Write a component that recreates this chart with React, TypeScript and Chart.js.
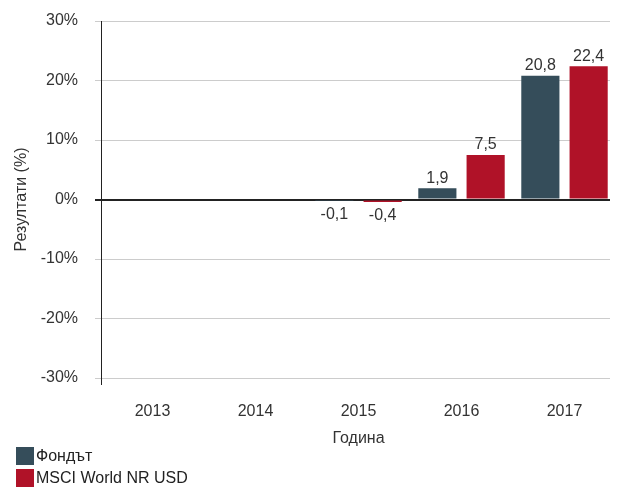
import React, { useEffect, useRef } from "react";
import { Chart, registerables } from "chart.js";
Chart.register(...registerables);

const years = ["2013", "2014", "2015", "2016", "2017"];
const fundValues: (number | null)[] = [null, null, -0.1, 1.9, 20.8];
const msciValues: (number | null)[] = [null, null, -0.4, 7.5, 22.4];
const seriesNames = ["Фондът", "MSCI World NR USD"];
const colors = ["#354d5a", "#b01228"];
const yTicks = [-30, -20, -10, 0, 10, 20, 30];

const FONT = "'Liberation Sans', Arial, sans-serif";
const FS = 16;

const valueLabels = {
  id: "valueLabels",
  afterDatasetsDraw(chart: any) {
    const ctx = chart.ctx;
    ctx.save();
    ctx.font = `${FS}px ${FONT}`;
    ctx.fillStyle = "#333";
    ctx.textAlign = "center";
    chart.data.datasets.forEach((ds: any, i: number) => {
      const meta = chart.getDatasetMeta(i);
      meta.data.forEach((bar: any, j: number) => {
        const v = ds.data[j];
        if (v === null || v === undefined) return;
        const txt = String(v).replace(".", ",");
        if (v >= 0) {
          ctx.textBaseline = "bottom";
          ctx.fillText(txt, bar.x, bar.y - 2);
        } else {
          ctx.textBaseline = "top";
          ctx.fillText(txt, bar.x, bar.y + 6);
        }
      });
    });
    // small extension of the y axis line below the plot area
    const a = chart.chartArea;
    ctx.strokeStyle = "#222";
    ctx.lineWidth = 1;
    ctx.beginPath();
    ctx.moveTo(a.left + 0.5, a.bottom);
    ctx.lineTo(a.left + 0.5, a.bottom + 7);
    ctx.stroke();
    ctx.restore();
  },
};

export default function App() {
  const ref = useRef<HTMLCanvasElement>(null);
  useEffect(() => {
    if (!ref.current) return;
    const chart = new Chart(ref.current, {
      type: "bar",
      data: {
        labels: years,
        datasets: [
          { label: seriesNames[0], data: fundValues, backgroundColor: colors[0] },
          { label: seriesNames[1], data: msciValues, backgroundColor: colors[1] },
        ],
      },
      options: {
        animation: false,
        responsive: false,
        layout: { padding: { left: 4, right: 2, top: 13, bottom: 0 } },
        datasets: { bar: { categoryPercentage: 0.9375, barPercentage: 0.79 } },
        plugins: { legend: { display: false }, tooltip: { enabled: false } },
        scales: {
          x: {
            grid: { display: false },
            border: { display: false },
            afterFit: (axis: any) => {
              axis.height = 70;
              axis.paddingLeft = 0;
              axis.paddingRight = 0;
            },
            ticks: { color: "#333", font: { family: FONT, size: FS }, padding: 16 },
            title: { display: true, text: "Година", color: "#333", font: { family: FONT, size: FS }, padding: { top: 0, bottom: 0 } },
          },
          y: {
            min: -30,
            max: 30,
            afterBuildTicks: (axis: any) => {
              axis.ticks = yTicks.map((v) => ({ value: v }));
            },
            afterFit: (axis: any) => {
              axis.width = 89;
              axis.paddingTop = 0;
              axis.paddingBottom = 0;
            },
            grid: {
              color: (c: any) => (c.tick && c.tick.value === 0 ? "#222" : "#cccccc"),
              lineWidth: (c: any) => (c.tick && c.tick.value === 0 ? 2 : 1),
              tickLength: 6,
            },
            border: { display: true, color: "#222", width: 1 },
            ticks: {
              color: "#333",
              font: { family: FONT, size: FS },
              padding: 17,
              callback: (v: any) => `${v}%`,
            },
            title: { display: true, text: "Резултати (%)", color: "#333", font: { family: FONT, size: FS }, padding: { top: 0, bottom: 0 } },
          },
        },
      },
      plugins: [valueLabels],
    });
    return () => chart.destroy();
  }, []);
  return (
    <div style={{ fontFamily: FONT }}>
      <canvas ref={ref} width={610} height={440} style={{ display: "block" }} />
      <div style={{ marginLeft: 8, marginTop: -3 }}>
        {seriesNames.map((n, i) => (
          <div key={n} style={{ display: "flex", alignItems: "center", height: 22 }}>
            <span style={{ width: 18, height: 18, background: colors[i], display: "inline-block", marginRight: 2 }} />
            <span style={{ fontSize: FS, color: "#222" }}>{n}</span>
          </div>
        ))}
      </div>
    </div>
  );
}
